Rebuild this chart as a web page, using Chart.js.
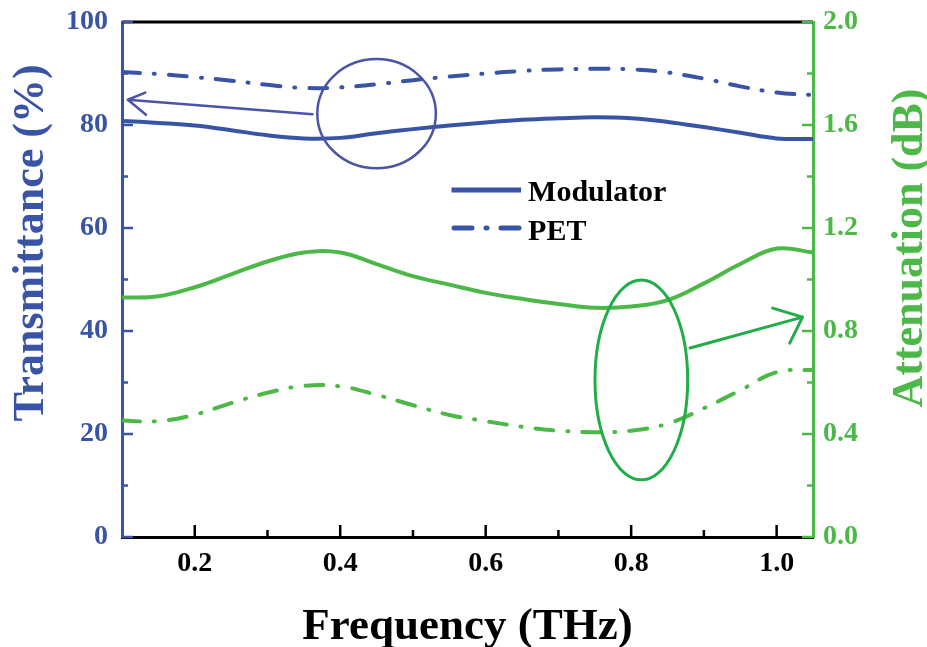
<!DOCTYPE html>
<html>
<head>
<meta charset="utf-8">
<script src="https://cdn.jsdelivr.net/npm/chart.js@4.4.0/dist/chart.umd.min.js"></script>
<style>
  html, body { margin: 0; padding: 0; background: #fff; }
</style>
</head>
<body>
<canvas id="chart" width="927" height="647"></canvas>
<script>
'use strict';

// values
const frequency    = [0.10, 0.15, 0.20, 0.25, 0.30, 0.35, 0.40, 0.45, 0.50, 0.55, 0.60, 0.65, 0.70, 0.75, 0.80, 0.85, 0.90, 0.95, 1.00, 1.05];
const modulatorT   = [80.8, 80.4, 79.9, 79.0, 78.0, 77.4, 77.5, 78.4, 79.2, 79.9, 80.5, 81.0, 81.3, 81.5, 81.3, 80.6, 79.6, 78.5, 77.4, 77.3];
const petT         = [90.3, 89.9, 89.3, 88.6, 87.8, 87.2, 87.3, 87.9, 88.7, 89.4, 90.0, 90.5, 90.8, 90.9, 90.8, 90.2, 89.0, 87.5, 86.3, 85.8];
const modulatorAtt = [0.93, 0.935, 0.97, 1.02, 1.07, 1.105, 1.105, 1.06, 1.013, 0.98, 0.948, 0.925, 0.905, 0.89, 0.895, 0.92, 0.985, 1.06, 1.12, 1.105];
const petAtt       = [0.452, 0.45, 0.475, 0.52, 0.56, 0.587, 0.585, 0.552, 0.512, 0.474, 0.45, 0.428, 0.413, 0.407, 0.413, 0.44, 0.5, 0.57, 0.64, 0.65];

const xTicks     = [0.2, 0.4, 0.6, 0.8, 1.0];
const xMinor     = [0.3, 0.5, 0.7, 0.9];
const leftTicks  = [0, 20, 40, 60, 80, 100];
const leftMinor  = [10, 30, 50, 70, 90];
const rightTicks = [0, 0.4, 0.8, 1.2, 1.6, 2.0];
const rightMinor = [0.2, 0.6, 1.0, 1.4, 1.8];

const BLUE = '#3a54a5';
const GREEN = '#4cb848';
const FONT = "'Liberation Serif', 'Times New Roman', serif";
const DASHDOT = [18, 14, 1, 14];

let canvasElem = document.getElementById('chart');

function pts(ys) {
  return frequency.map((f, i) => ({ x: f, y: ys[i] }));
}

function noPad(s) {
  s.paddingTop = 0;
  s.paddingBottom = 0;
  s.paddingLeft = 0;
  s.paddingRight = 0;
}

function inwardTicks(ctx, scale, values, len, color, side) {
  const area = scale.chart.chartArea;
  ctx.strokeStyle = color;
  ctx.lineWidth = 2.5;
  values.forEach(v => {
    const p = scale.getPixelForValue(v);
    ctx.beginPath();
    if (side === 'bottom') { ctx.moveTo(p, area.bottom); ctx.lineTo(p, area.bottom - len); }
    if (side === 'left') { ctx.moveTo(area.left, p); ctx.lineTo(area.left + len, p); }
    if (side === 'right') { ctx.moveTo(area.right, p); ctx.lineTo(area.right - len, p); }
    ctx.stroke();
  });
}

function arrow(ctx, pts, color, w) {
  ctx.strokeStyle = color;
  ctx.lineWidth = w;
  ctx.lineCap = 'round';
  ctx.lineJoin = 'round';
  ctx.beginPath();
  ctx.moveTo(pts[0][0], pts[0][1]);
  ctx.lineTo(pts[1][0], pts[1][1]);
  ctx.moveTo(pts[2][0], pts[2][1]);
  ctx.lineTo(pts[1][0], pts[1][1]);
  ctx.lineTo(pts[3][0], pts[3][1]);
  ctx.stroke();
}

const decor = {
  id: 'decor',
  afterDatasetsDraw(chart) {
    const ctx = chart.ctx;
    const { x, yL, yR } = chart.scales;
    const area = chart.chartArea;
    ctx.save();

    // top frame line
    ctx.strokeStyle = '#000';
    ctx.lineWidth = 3;
    ctx.beginPath();
    ctx.moveTo(area.left, area.top);
    ctx.lineTo(area.right, area.top);
    ctx.stroke();

    inwardTicks(ctx, x, xTicks, 12, '#000', 'bottom');
    inwardTicks(ctx, x, xMinor, 7, '#000', 'bottom');
    inwardTicks(ctx, yL, leftTicks, 11, BLUE, 'left');
    inwardTicks(ctx, yL, leftMinor, 6, BLUE, 'left');
    inwardTicks(ctx, yR, rightTicks, 11, GREEN, 'right');
    inwardTicks(ctx, yR, rightMinor, 6, GREEN, 'right');

    // annotation ellipses
    ctx.lineWidth = 2.5;
    ctx.strokeStyle = '#4b54a6';
    ctx.beginPath();
    ctx.ellipse(x.getPixelForValue(0.45), yL.getPixelForValue(82.2),
      x.getPixelForValue(0.5315) - x.getPixelForValue(0.45),
      yL.getPixelForValue(82.2) - yL.getPixelForValue(92.8), 0, 0, Math.PI * 2);
    ctx.stroke();

    ctx.lineWidth = 3;
    ctx.strokeStyle = '#22ad48';
    ctx.beginPath();
    ctx.ellipse(x.getPixelForValue(0.814), yR.getPixelForValue(0.61),
      x.getPixelForValue(0.8777) - x.getPixelForValue(0.814),
      yR.getPixelForValue(0.61) - yR.getPixelForValue(0.998), 0, 0, Math.PI * 2);
    ctx.stroke();

    // arrows pointing at the axes
    arrow(ctx, [
      [x.getPixelForValue(0.362), yL.getPixelForValue(82.1)],
      [x.getPixelForValue(0.108), yL.getPixelForValue(84.9)],
      [x.getPixelForValue(0.132), yL.getPixelForValue(86.3)],
      [x.getPixelForValue(0.133), yL.getPixelForValue(82.0)]
    ], '#4b54a6', 2.5);
    arrow(ctx, [
      [x.getPixelForValue(0.881), yR.getPixelForValue(0.734)],
      [x.getPixelForValue(1.0356), yR.getPixelForValue(0.854)],
      [x.getPixelForValue(0.9945), yR.getPixelForValue(0.889)],
      [x.getPixelForValue(1.018), yR.getPixelForValue(0.753)]
    ], '#22ad48', 3);

    // legend
    const lx0 = x.getPixelForValue(0.553), lx1 = x.getPixelForValue(0.6487);
    const ly1 = yL.getPixelForValue(67.4), ly2 = yL.getPixelForValue(60.0);
    ctx.strokeStyle = BLUE;
    ctx.lineWidth = 5;
    ctx.lineCap = 'butt';
    ctx.beginPath(); ctx.moveTo(lx0, ly1); ctx.lineTo(lx1, ly1); ctx.stroke();
    ctx.lineCap = 'round';
    ctx.setLineDash(DASHDOT);
    ctx.beginPath(); ctx.moveTo(lx0 + 2.5, ly2); ctx.lineTo(lx1, ly2); ctx.stroke();
    ctx.setLineDash([]);
    ctx.fillStyle = '#000';
    ctx.font = 'bold 30px ' + FONT;
    ctx.textAlign = 'left';
    ctx.textBaseline = 'alphabetic';
    ctx.fillText('Modulator', lx1 + 7, ly1 + 11);
    ctx.fillText('PET', lx1 + 7, ly2 + 12);

    // axis titles
    ctx.font = 'bold 45px ' + FONT;
    ctx.textAlign = 'center';
    ctx.fillText('Frequency (THz)', (area.left + area.right) / 2, 639);

    ctx.font = 'bold 44px ' + FONT;
    ctx.fillStyle = BLUE;
    ctx.save();
    ctx.translate(43, 243);
    ctx.rotate(-Math.PI / 2);
    ctx.fillText('Transmittance (%)', 0, 0);
    ctx.restore();

    ctx.fillStyle = GREEN;
    ctx.save();
    ctx.translate(922, 248);
    ctx.rotate(-Math.PI / 2);
    ctx.fillText('Attenuation (dB)', 0, 0);
    ctx.restore();

    ctx.restore();
  }
};

function lineSet(label, ys, axis, color, dashed) {
  return {
    label: label,
    data: pts(ys),
    yAxisID: axis,
    borderColor: color,
    borderWidth: 4,
    borderDash: dashed ? DASHDOT : [],
    borderCapStyle: dashed ? 'round' : 'butt',
    pointRadius: 0,
    tension: 0.4,
    fill: false
  };
}

function renderChart() {
  new Chart(canvasElem, {
    type: 'line',
    data: {
      datasets: [
        lineSet('Modulator', modulatorT, 'yL', BLUE, false),
        lineSet('PET', petT, 'yL', BLUE, true),
        lineSet('Modulator (dB)', modulatorAtt, 'yR', GREEN, false),
        lineSet('PET (dB)', petAtt, 'yR', GREEN, true)
      ]
    },
    options: {
      responsive: false,
      animation: false,
      layout: { padding: { top: 22, left: 0, right: 0, bottom: 0 } },
      plugins: { legend: { display: false }, tooltip: { enabled: false } },
      scales: {
        x: {
          type: 'linear',
          min: 0.1,
          max: 1.05,
          afterBuildTicks: s => { s.ticks = xTicks.map(v => ({ value: v })); },
          afterFit: s => { s.height = 110; noPad(s); },
          grid: { display: false, drawTicks: false },
          border: { color: '#000', width: 3 },
          ticks: {
            autoSkip: false, maxRotation: 0, padding: 10, color: '#000',
            font: { family: FONT, size: 28, weight: 'bold' },
            callback: v => v.toFixed(1)
          }
        },
        yL: {
          position: 'left',
          min: 0,
          max: 100,
          afterBuildTicks: s => { s.ticks = leftTicks.map(v => ({ value: v })); },
          afterFit: s => { s.width = 122; noPad(s); },
          grid: { display: false, drawTicks: false },
          border: { color: BLUE, width: 3 },
          ticks: {
            autoSkip: false, padding: 14, color: BLUE,
            font: { family: FONT, size: 28, weight: 'bold' },
            callback: v => String(v)
          }
        },
        yR: {
          position: 'right',
          min: 0,
          max: 2,
          afterBuildTicks: s => { s.ticks = rightTicks.map(v => ({ value: v })); },
          afterFit: s => { s.width = 114; noPad(s); },
          grid: { display: false, drawTicks: false },
          border: { color: GREEN, width: 3 },
          ticks: {
            autoSkip: false, padding: 10, color: GREEN,
            font: { family: FONT, size: 28, weight: 'bold' },
            callback: v => v.toFixed(1)
          }
        }
      }
    },
    plugins: [decor]
  });
}

renderChart();
</script>
</body>
</html>
